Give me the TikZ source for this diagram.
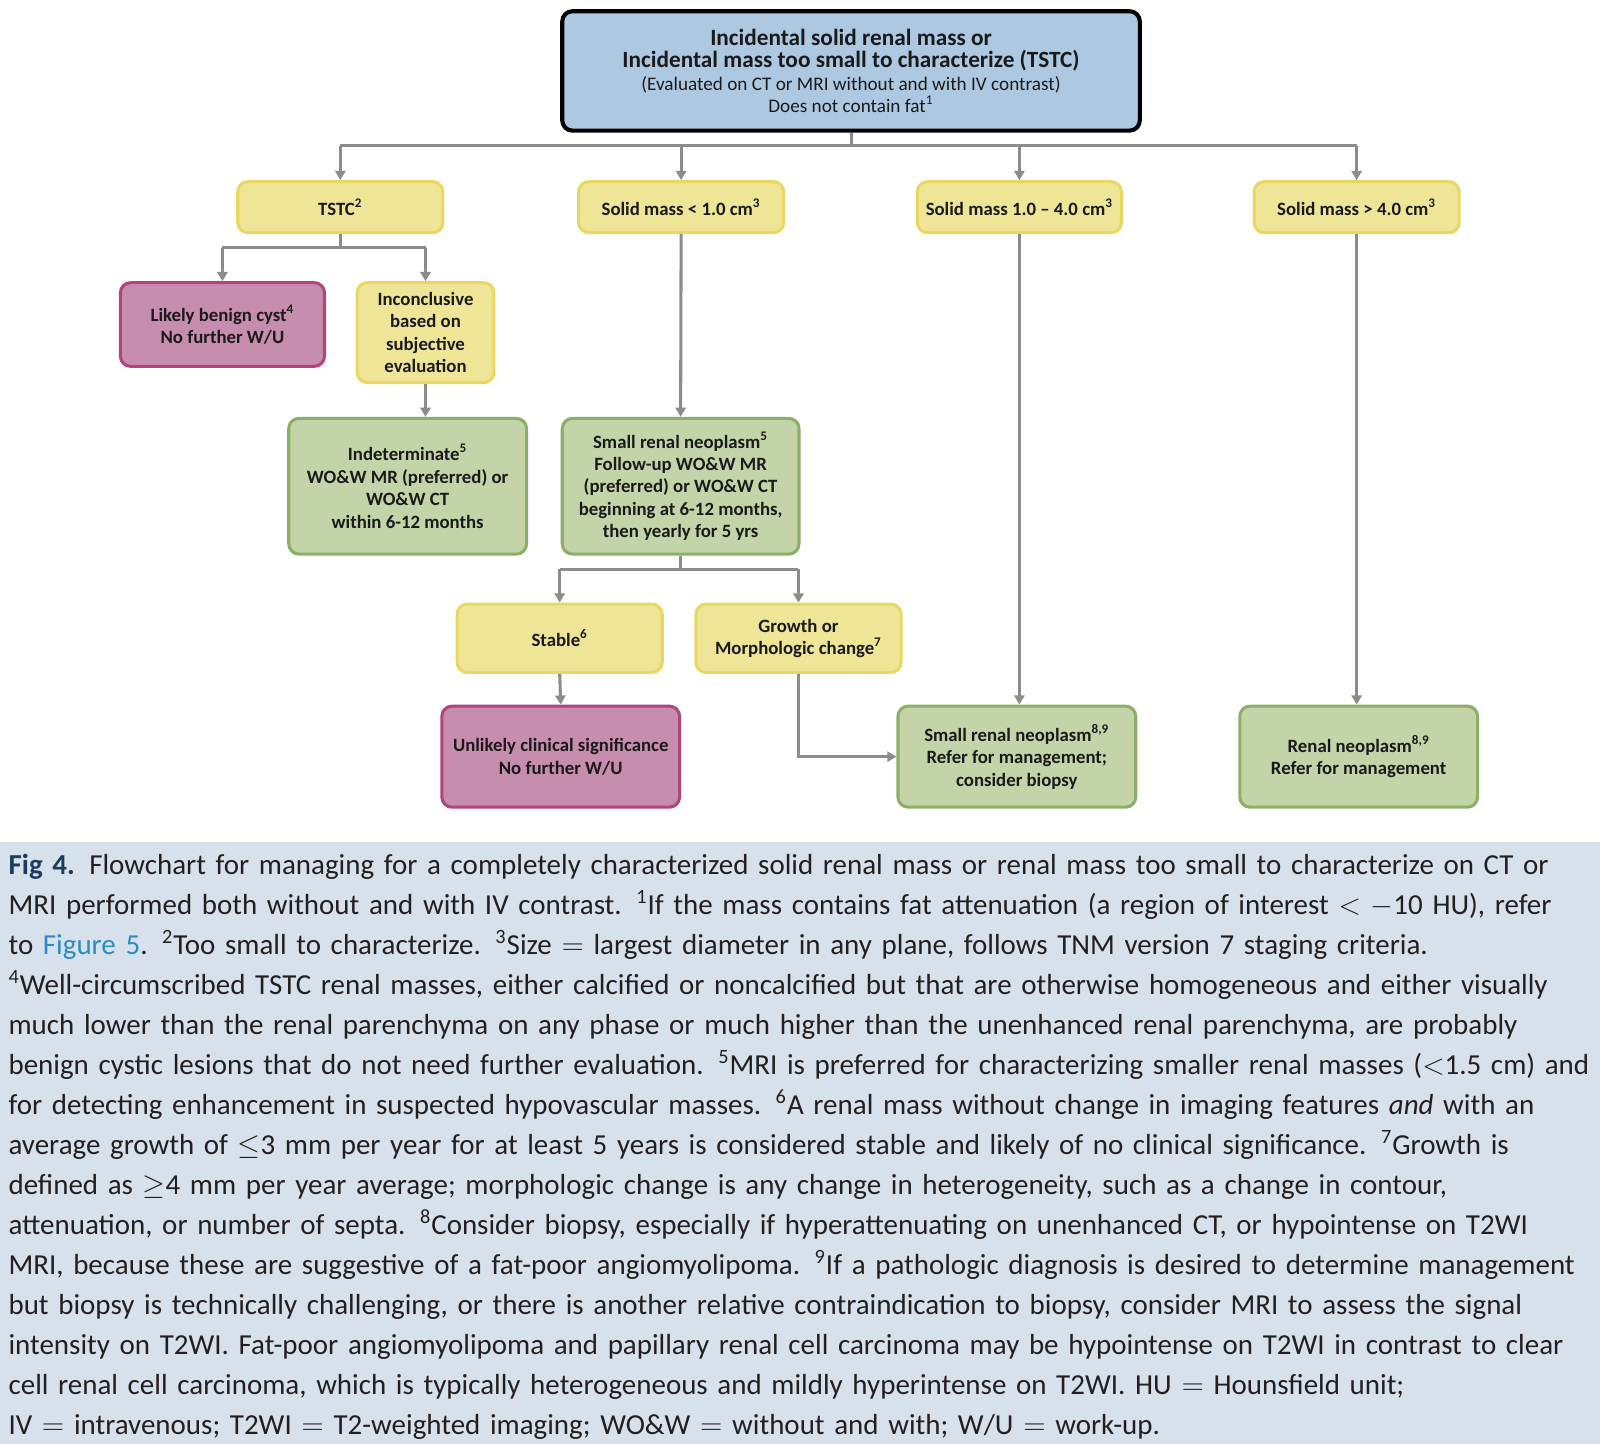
\documentclass[tikz,border=0pt]{standalone}
\usepackage{fontspec}
\setmainfont{Carlito}
\usetikzlibrary{arrows.meta}
\definecolor{blueF}{HTML}{ADC9E2}
\definecolor{yelF}{HTML}{EFE597}
\definecolor{yelB}{HTML}{E8D862}
\definecolor{pinkF}{HTML}{C78DAE}
\definecolor{pinkB}{HTML}{B2457A}
\definecolor{greenF}{HTML}{C3D5A8}
\definecolor{greenB}{HTML}{8DAE66}
\definecolor{connC}{HTML}{8C8C8C}
\definecolor{capBg}{HTML}{D7E1EB}
\definecolor{capTxt}{HTML}{231F20}
\definecolor{figC}{HTML}{1D3C5E}
\definecolor{linkC}{HTML}{2B8CC4}
\definecolor{boxTxt}{HTML}{1A1A1A}
\begin{document}
\begin{tikzpicture}[x=0.5pt,y=-0.5pt,
  box/.style={rounded corners=5pt, line width=1.5pt, align=center, inner sep=0pt,
    text=boxTxt, font=\fontsize{9.2pt}{11pt}\selectfont\bfseries},
  yel/.style={box, draw=yelB, fill=yelF},
  pink/.style={box, draw=pinkB, fill=pinkF},
  grn/.style={box, draw=greenB, fill=greenF},
  conn/.style={draw=connC, line width=1.5pt},
  arr/.style={conn, -{Triangle[length=4.5pt,width=5pt]}}]
\useasboundingbox (0,0) rectangle (1568,1415);
\fill[white] (0,0) rectangle (1568,1415);
\fill[capBg] (0,825) rectangle (1568,1415);

% nodes
\node[box, draw=black, line width=2pt, fill=blueF, minimum width=283pt, minimum height=58.5pt] (top) at (834,69.5)
 {{\fontsize{11.4pt}{11.2pt}\selectfont Incidental solid renal mass or}\\
  {\fontsize{11.4pt}{11.2pt}\selectfont Incidental mass too small to characterize (TSTC)}\\
  {\fontsize{9.4pt}{11.2pt}\selectfont\mdseries (Evaluated on CT or MRI without and with IV contrast)}\\
  {\fontsize{9.4pt}{11.2pt}\selectfont\mdseries Does not contain fat\textsuperscript{1}}};

\node[yel, minimum width=100.5pt, minimum height=25pt] (tstc) at (333.5,203) {TSTC\textsuperscript{2}};
\node[yel, minimum width=100.5pt, minimum height=25pt] (s1) at (667.5,203) {Solid mass {<} 1.0 cm\textsuperscript{3}};
\node[yel, minimum width=100pt, minimum height=25pt] (s2) at (999,203) {Solid mass 1.0 – 4.0 cm\textsuperscript{3}};
\node[yel, minimum width=100.5pt, minimum height=25pt] (s3) at (1329.5,203) {Solid mass {>} 4.0 cm\textsuperscript{3}};

\node[pink, minimum width=100pt, minimum height=41pt] (cyst) at (218,318) {Likely benign cyst\textsuperscript{4}\\No further W/U};
\node[yel, minimum width=67pt, minimum height=49pt] (inc) at (417,326) {Inconclusive\\based on\\subjective\\evaluation};
\node[grn, minimum width=116.5pt, minimum height=66.5pt] (ind) at (399.5,476.5) {Indeterminate\textsuperscript{5}\\WO\&W MR (preferred) or\\WO\&W CT\\within 6-12 months};
\node[grn, minimum width=116pt, minimum height=66.5pt] (srn) at (667,476.5) {Small renal neoplasm\textsuperscript{5}\\Follow-up WO\&W MR\\(preferred) or WO\&W CT\\beginning at 6-12 months,\\then yearly for 5 yrs};
\node[yel, minimum width=100.5pt, minimum height=33.5pt] (stable) at (548.5,625.5) {Stable\textsuperscript{6}};
\node[yel, minimum width=100.5pt, minimum height=33.5pt] (growth) at (782.5,625.5) {Growth or\\Morphologic change\textsuperscript{7}};
\node[pink, minimum width=116.5pt, minimum height=49.5pt] (unl) at (549.5,741.5) {Unlikely clinical significance\\No further W/U};
\node[grn, minimum width=116.5pt, minimum height=49.5pt] (srn2) at (996.5,741.5) {Small renal neoplasm\textsuperscript{8,9}\\Refer for management;\\consider biopsy};
\node[grn, minimum width=116.5pt, minimum height=49.5pt] (rn) at (1331.5,741.5) {Renal neoplasm\textsuperscript{8,9}\\Refer for management};

% connectors
\coordinate (bus1) at (832,143);
\coordinate (bus2) at (333,243);
\coordinate (bus3) at (667,558);
\draw[conn] (top.south) -- (top.south |- bus1);
\draw[conn] (tstc.north |- bus1) -- (s3.north |- bus1);
\draw[arr] (tstc.north |- bus1) -- (tstc.north);
\draw[arr] (s1.north |- bus1) -- (s1.north);
\draw[arr] (s2.north |- bus1) -- (s2.north);
\draw[arr] (s3.north |- bus1) -- (s3.north);

\draw[conn] (tstc.south) -- (tstc.south |- bus2);
\draw[conn] (cyst.north |- bus2) -- (inc.north |- bus2);
\draw[arr] (cyst.north |- bus2) -- (cyst.north);
\draw[arr] (inc.north |- bus2) -- (inc.north);
\draw[arr] (inc.south) -- (inc.south |- ind.north);

\draw[arr] (s1.south) -- (srn.north);
\draw[conn] (srn.south) -- (srn.south |- bus3);
\draw[conn] (stable.north |- bus3) -- (growth.north |- bus3);
\draw[arr] (stable.north |- bus3) -- (stable.north);
\draw[arr] (growth.north |- bus3) -- (growth.north);
\draw[arr] (stable.south) -- (unl.north);
\draw[arr] (growth.south) |- (srn2.west);
\draw[arr] (s2.south) -- (s2.south |- srn2.north);
\draw[arr] (s3.south) -- (s3.south |- rn.north);

% caption
\node[anchor=base west, text width=790pt, align=left, inner sep=0pt, text=capTxt,
  font=\fontsize{14.2pt}{19.6pt}\selectfont] (cap) at (8,857)
{{\bfseries\color{figC}Fig 4.} Flowchart for managing for a completely characterized solid renal mass or renal mass too small to characterize on CT or\\
MRI performed both without and with IV contrast. \textsuperscript{1}If the mass contains fat attenuation (a region of interest $<$ $-$10 HU), refer\\
to {\color{linkC}Figure 5}. \textsuperscript{2}Too small to characterize. \textsuperscript{3}Size $=$ largest diameter in any plane, follows TNM version 7 staging criteria.\\
\textsuperscript{4}Well-circumscribed TSTC renal masses, either calcified or noncalcified but that are otherwise homogeneous and either visually\\
much lower than the renal parenchyma on any phase or much higher than the unenhanced renal parenchyma, are probably\\
benign cystic lesions that do not need further evaluation. \textsuperscript{5}MRI is preferred for characterizing smaller renal masses ($<$1.5 cm) and\\
for detecting enhancement in suspected hypovascular masses. \textsuperscript{6}A renal mass without change in imaging features \textit{and} with an\\
average growth of $\leq$3 mm per year for at least 5 years is considered stable and likely of no clinical significance. \textsuperscript{7}Growth is\\
defined as $\geq$4 mm per year average; morphologic change is any change in heterogeneity, such as a change in contour,\\
attenuation, or number of septa. \textsuperscript{8}Consider biopsy, especially if hyperattenuating on unenhanced CT, or hypointense on T2WI\\
MRI, because these are suggestive of a fat-poor angiomyolipoma. \textsuperscript{9}If a pathologic diagnosis is desired to determine management\\
but biopsy is technically challenging, or there is another relative contraindication to biopsy, consider MRI to assess the signal\\
intensity on T2WI. Fat-poor angiomyolipoma and papillary renal cell carcinoma may be hypointense on T2WI in contrast to clear\\
cell renal cell carcinoma, which is typically heterogeneous and mildly hyperintense on T2WI. HU $=$ Hounsfield unit;\\
IV $=$ intravenous; T2WI $=$ T2-weighted imaging; WO\&W $=$ without and with; W/U $=$ work-up.};
\end{tikzpicture}
\end{document}
